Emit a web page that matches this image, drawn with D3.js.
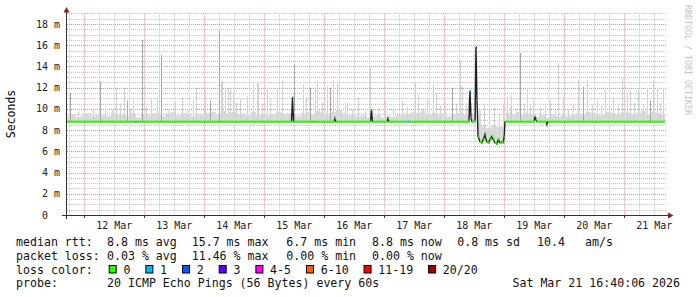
<!DOCTYPE html>
<html>
<head>
<meta charset="utf-8">
<script src="https://d3js.org/d3.v7.min.js"></script>
<style>
body { margin: 0; background: #fff; }
text { font-family: "DejaVu Sans Mono", monospace; }
</style>
</head>
<body>
<svg id="chart" width="697" height="297"></svg>
<script>
// time window: 10 days ending at the graph stamp (hours are counted from the start)
const startTime = Date.UTC(2026, 2, 11, 16, 40, 6)
const spanHours = 240

const yTicks = [0, 2, 4, 6, 8, 10, 12, 14, 16, 18]
const dayLabels = ["12 Mar", "13 Mar", "14 Mar", "15 Mar", "16 Mar", "17 Mar", "18 Mar", "19 Mar", "20 Mar", "21 Mar"]

// median rtt in ms: [hour, ms, loss bin]
const medianPts = [
    [0, 8.8, 0], [27.8, 8.8, 1], [28.2, 8.8, 0],
    [90.2, 8.8, 0], [90.6, 11.1, 1], [91.0, 8.8, 0],
    [98.8, 8.8, 1], [99.2, 8.8, 0],
    [107.2, 8.8, 0], [107.6, 9.1, 0], [108.0, 8.8, 0],
    [121.8, 8.8, 0], [122.2, 9.9, 0], [122.6, 8.8, 0],
    [128.4, 8.8, 0], [128.8, 9.1, 0], [129.2, 8.8, 0],
    [136.8, 8.8, 1], [137.2, 8.8, 0],
    [161.2, 8.8, 0], [161.6, 11.7, 1], [162.0, 9.2, 1], [162.4, 8.8, 0],
    [163.6, 8.8, 0], [164.0, 15.8, 3], [164.4, 10.8, 1], [164.8, 7.4, 0],
    [165.6, 6.9, 0], [166.3, 6.8, 0], [166.9, 7.1, 0], [167.6, 7.6, 0],
    [168.3, 6.9, 0], [168.9, 6.8, 0], [169.6, 7.1, 0], [170.3, 7.4, 0],
    [170.9, 7.1, 0], [171.6, 6.8, 0], [172.3, 6.7, 0], [172.9, 7.1, 0],
    [173.6, 6.8, 0], [174.3, 6.9, 0], [174.9, 6.8, 0], [175.3, 7.4, 0],
    [175.6, 8.8, 0],
    [187.2, 8.8, 0], [187.6, 9.3, 0], [188.0, 9.0, 0], [188.4, 8.8, 0],
    [192.0, 8.8, 0], [192.4, 8.5, 0], [192.8, 8.8, 0],
    [239.6, 8.8, 0]
]

// top of the low smoke band, one value every 2 hours
const smokeBandTop = [
    9.3, 9.5, 9.2, 9.4, 9.6, 9.3, 9.5, 9.4, 9.3, 9.6,
    9.4, 9.5, 9.3, 9.6, 9.2, 9.5, 9.4, 9.6, 9.5, 9.3,
    9.6, 9.7, 9.4, 9.6, 9.5, 9.3, 9.5, 9.4, 9.6, 9.7,
    9.5, 9.8, 9.6, 9.7, 9.5, 9.6, 9.4, 9.7, 9.5, 9.6,
    9.4, 9.5, 9.7, 9.4, 9.6, 9.5, 9.3, 9.6, 9.7, 9.5,
    9.8, 9.6, 9.5, 9.7, 9.9, 9.6, 9.4, 9.5, 9.3, 9.4,
    9.2, 9.3, 9.4, 9.2, 9.3, 9.2, 9.4, 9.6, 9.5, 9.7,
    9.6, 9.8, 9.5, 9.6, 9.4, 9.6, 9.3, 9.5, 9.6, 9.4,
    9.5, 9.6, 9.8, 8.4, 8.2, 8.5, 8.3, 8.4, 9.6, 9.5,
    9.7, 9.4, 9.6, 9.5, 9.3, 9.4, 9.2, 9.4, 9.3, 9.5,
    9.3, 9.4, 9.6, 9.5, 9.7, 9.6, 9.4, 9.5, 9.7, 9.6,
    9.5, 9.7, 9.6, 9.5, 9.6, 9.8, 9.5, 9.7, 9.6, 9.5
]

// single smoke spikes: [hour, top ms, shade]
const smokeSpikes = [
    [1.6, 11.5, 1], [4.8, 9.8, 0], [8.0, 9.6, 0], [10.8, 9.9, 0], [13.6, 12.6, 1],
    [15.6, 10.0, 0], [18.4, 9.9, 0], [20.0, 12.0, 0], [21.6, 10.5, 0], [23.2, 12.0, 0],
    [24.4, 10.8, 1], [25.6, 10.0, 0], [26.8, 10.8, 0], [30.4, 16.5, 1], [32.0, 10.2, 0],
    [34.0, 10.9, 0], [36.4, 11.0, 0], [37.2, 12.0, 0], [38.0, 15.1, 1], [40.8, 9.9, 0],
    [43.6, 10.7, 0], [46.4, 11.0, 0], [48.4, 10.0, 0], [50.8, 11.0, 0], [52.0, 12.0, 0],
    [55.6, 12.0, 0], [57.6, 10.8, 1], [61.2, 17.4, 1], [62.0, 12.5, 0], [62.8, 12.6, 0],
    [63.6, 11.8, 0], [64.8, 12.0, 0], [65.6, 11.8, 0], [66.8, 11.6, 0], [68.0, 10.6, 0],
    [69.6, 11.0, 0], [72.4, 11.2, 0], [74.8, 12.3, 0], [76.4, 12.6, 0], [76.8, 12.4, 0],
    [78.4, 10.5, 0], [80.4, 12.0, 0], [81.6, 10.9, 0], [84.4, 11.8, 0], [86.4, 12.7, 0],
    [91.2, 14.2, 1], [94.8, 12.3, 0], [96.0, 11.0, 0], [97.6, 12.0, 1], [99.6, 11.8, 0],
    [100.4, 12.7, 0], [102.4, 10.6, 0], [104.4, 12.2, 0], [105.6, 12.0, 1], [106.8, 12.7, 0],
    [108.4, 12.5, 0], [110.0, 10.0, 0], [111.6, 10.6, 0], [112.4, 10.6, 0], [114.4, 9.9, 0],
    [116.8, 11.0, 0], [119.6, 9.8, 0], [122.0, 14.0, 0], [124.8, 10.0, 0], [127.6, 10.8, 0],
    [130.8, 9.9, 0], [134.4, 10.8, 0], [136.8, 10.2, 0], [139.6, 12.4, 0], [140.8, 11.3, 0],
    [142.4, 10.0, 0], [144.4, 11.0, 0], [146.8, 12.3, 0], [148.4, 11.5, 0], [149.6, 10.3, 0],
    [151.6, 10.6, 0], [154.4, 12.0, 1], [156.0, 10.5, 0], [157.6, 14.6, 0], [158.4, 12.2, 0],
    [160.0, 10.4, 0], [160.8, 11.0, 0],
    [165.6, 9.6, 0], [167.2, 10.4, 0], [169.2, 9.9, 0], [171.2, 10.2, 0], [173.2, 9.5, 0], [174.8, 10.4, 0],
    [176.4, 11.1, 0], [177.6, 10.2, 0], [178.4, 11.3, 0], [180.0, 10.0, 0], [181.6, 15.3, 1],
    [183.2, 10.5, 0], [184.4, 12.0, 0], [185.6, 10.3, 0], [186.8, 10.7, 0], [189.6, 10.0, 0],
    [191.6, 10.3, 0], [193.6, 10.8, 0], [195.6, 10.1, 0], [196.8, 14.3, 0], [198.8, 11.1, 0],
    [200.8, 10.0, 0], [202.8, 10.4, 0], [204.8, 12.7, 0], [206.8, 12.1, 1], [208.4, 12.7, 0],
    [210.4, 10.4, 0], [212.4, 10.8, 0], [214.0, 10.2, 0], [215.6, 11.8, 0], [217.2, 10.5, 0],
    [218.8, 11.1, 0], [220.8, 10.3, 0], [222.4, 12.9, 0], [224.4, 11.4, 0], [225.6, 11.8, 0],
    [227.2, 10.6, 0], [228.8, 11.8, 0], [230.8, 10.4, 0], [232.4, 12.0, 0], [233.6, 10.8, 1],
    [234.8, 12.7, 0], [236.4, 12.0, 0], [237.6, 10.6, 0], [238.8, 12.0, 0]
]

const lossBins = ["0", "1", "2", "3", "4-5", "6-10", "11-19", "20/20"]
const lossColors = ["#26ff00", "#00b8ff", "#0059ff", "#5e00ff", "#ff00ff", "#ff5e00", "#ff0000", "#a10000"]
const rttStats = ["8.8 ms avg", "15.7 ms max", "6.7 ms min", "8.8 ms now", "0.8 ms sd", "10.4", "am/s"]
const lossStats = ["0.03 % avg", "11.46 % max", "0.00 % min", "0.00 % now"]
const probeText = "20 ICMP Echo Pings (56 Bytes) every 60s"
const stampText = "Sat Mar 21 16:40:06 2026"

let svg = d3.select("#chart")
let hourDate = h => new Date(startTime + h * 3600e3)

let x = d3.scaleUtc()
    .domain([hourDate(0), hourDate(spanHours)])
    .range([66, 666])
let y = d3.scaleLinear()
    .domain([0, 19])
    .range([215, 13.4])

let plotTop = y(19), plotBottom = y(0)
let px = v => Math.round(v) + 0.5

// median lookup, step wise
let bis = d3.bisector(d => d[0]).right
function medianAt(h) {
    let i = bis(medianPts, h) - 1
    return medianPts[Math.max(0, i)][1]
}

// grid
let grid = svg.append("g")
let minorY = d3.range(0.5, 19.01, 0.5).filter(v => v % 2 !== 0)
grid.selectAll(".gy").data(minorY).enter().append("line")
    .attr("x1", 67).attr("x2", 666)
    .attr("y1", d => px(y(d))).attr("y2", d => px(y(d)))
    .attr("stroke", "#c4c4c4").attr("stroke-dasharray", "1,1")
let minorX = d3.utcHour.every(6).range(x.domain()[0], x.domain()[1]).filter(d => d.getUTCHours() !== 0)
grid.selectAll(".gx").data(minorX).enter().append("line")
    .attr("x1", d => px(x(d))).attr("x2", d => px(x(d)))
    .attr("y1", plotTop).attr("y2", plotBottom)
    .attr("stroke", "#c4c4c4").attr("stroke-dasharray", "1,1")
grid.selectAll(".my").data(yTicks.slice(1)).enter().append("line")
    .attr("x1", 67).attr("x2", 666)
    .attr("y1", d => px(y(d))).attr("y2", d => px(y(d)))
    .attr("stroke", "#f08c8c").attr("stroke-dasharray", "1,1")
let days = d3.utcDay.range(x.domain()[0], x.domain()[1])
grid.selectAll(".mx").data(days).enter().append("line")
    .attr("x1", d => px(x(d))).attr("x2", d => px(x(d)))
    .attr("y1", plotTop).attr("y2", plotBottom)
    .attr("stroke", "#f08c8c").attr("stroke-dasharray", "1,1")

// smoke band, one column per pixel
let cols = d3.range(Math.round(x.range()[0]), Math.round(x(hourDate(239.6))))
let colHour = c => (x.invert(c + 0.5) - startTime) / 3600e3
let bandTopAt = h => smokeBandTop[Math.min(smokeBandTop.length - 1, Math.floor(h / 2))]
let smoke = svg.append("g")
smoke.selectAll(".band").data(cols).enter().append("rect")
    .attr("x", d => d)
    .attr("width", 1)
    .attr("y", d => y(bandTopAt(colHour(d))))
    .attr("height", d => Math.max(0, y(medianAt(colHour(d))) - y(bandTopAt(colHour(d)))))
    .attr("fill", "#dadada")

let shades = ["#d2d2d2", "#a8a8a8", "#808080"]
smoke.selectAll(".spike").data(smokeSpikes).enter().append("rect")
    .attr("x", d => Math.floor(x(hourDate(d[0]))))
    .attr("width", 1)
    .attr("y", d => y(d[1]))
    .attr("height", d => Math.max(0, y(medianAt(d[0])) - y(d[1])))
    .attr("fill", d => shades[d[2]])

// dark median line, then loss coloured median band
svg.append("path")
    .datum(medianPts)
    .attr("d", d3.line().x(d => x(hourDate(d[0]))).y(d => y(d[1])))
    .attr("fill", "none")
    .attr("stroke", "#202020")
    .attr("stroke-width", 1.4)

let segs = medianPts.slice(0, -1).map((d, i) => [d, medianPts[i + 1]])
svg.append("g").selectAll("rect").data(segs).enter().append("rect")
    .attr("x", d => x(hourDate(d[0][0])))
    .attr("width", d => Math.max(1, x(hourDate(d[1][0])) - x(hourDate(d[0][0]))))
    .attr("y", d => y(d[0][1]) - 1)
    .attr("height", 2)
    .attr("fill", d => lossColors[d[0][2]])

// axes
let axis = svg.append("g")
axis.append("line").attr("x1", 62).attr("x2", 669).attr("y1", 215.5).attr("y2", 215.5).attr("stroke", "#333")
axis.append("line").attr("x1", 66.5).attr("x2", 66.5).attr("y1", 219).attr("y2", 11).attr("stroke", "#333")
axis.append("path").attr("d", "M63.5,12.5L69.5,12.5L66.5,7Z").attr("fill", "#8b1c1c")
axis.append("path").attr("d", "M668,212.5L668,218.5L673.5,215.5Z").attr("fill", "#8b1c1c")
axis.selectAll(".tk").data(days).enter().append("line")
    .attr("x1", d => px(x(d))).attr("x2", d => px(x(d)))
    .attr("y1", 215).attr("y2", 218)
    .attr("stroke", "#333")

axis.selectAll(".yl").data(yTicks).enter().append("text")
    .attr("x", 60)
    .attr("y", d => y(d) + 3.5)
    .attr("text-anchor", "end")
    .style("white-space", "pre")
    .attr("font-size", 10)
    .attr("fill", "#222")
    .text(d => d + " " + (d === 0 ? " " : "m"))

axis.selectAll(".xl").data(days).enter().append("text")
    .attr("x", d => x(d3.utcHour.offset(d, 12)))
    .attr("y", 228.5)
    .attr("text-anchor", "middle")
    .attr("font-size", 10)
    .attr("fill", "#222")
    .text((d, i) => dayLabels[i])

svg.append("text")
    .attr("transform", "translate(14.5,114) rotate(-90)")
    .attr("text-anchor", "middle")
    .attr("font-size", 11.5)
    .text("Seconds")

svg.append("text")
    .attr("transform", "translate(685,60) rotate(90)")
    .attr("text-anchor", "middle")
    .attr("font-size", 8.3)
    .attr("fill", "#c4c4c4")
    .text("RRDTOOL / TOBI OETIKER")

// legend
let fs = 11.6, cw = 6.97
let legend = svg.append("g").attr("font-size", fs).attr("fill", "#111")
let statX = [107, 191.7, 286.3, 372, 457.2, 537, 585]
legend.append("text").attr("x", 16).attr("y", 246).text("median rtt:")
legend.selectAll(".rs").data(rttStats).enter().append("text")
    .attr("x", (d, i) => statX[i]).attr("y", 246).text(d => d)
legend.append("text").attr("x", 16).attr("y", 259.8).text("packet loss:")
legend.selectAll(".ls").data(lossStats).enter().append("text")
    .attr("x", (d, i) => statX[i]).attr("y", 259.8).text(d => d)

legend.append("text").attr("x", 16).attr("y", 273.5).text("loss color:")
let sx = []
let cur = 108.7
lossBins.forEach(function(b) {
    sx.push(cur)
    cur = cur + 14.7 + b.length * cw + 15
})
let items = legend.selectAll(".li").data(lossBins).enter().append("g")
items.append("rect")
    .attr("x", (d, i) => sx[i] + 0.5).attr("y", 265.5)
    .attr("width", 7).attr("height", 7.5)
    .attr("fill", (d, i) => lossColors[i])
    .attr("stroke", "#000").attr("stroke-width", 1)
items.append("text")
    .attr("x", (d, i) => sx[i] + 14.7).attr("y", 273.5)
    .text(d => d)

legend.append("text").attr("x", 16).attr("y", 287).text("probe:")
legend.append("text").attr("x", 107).attr("y", 287).text(probeText)
legend.append("text").attr("x", 680).attr("y", 287).attr("text-anchor", "end").text(stampText)
</script>
</body>
</html>
